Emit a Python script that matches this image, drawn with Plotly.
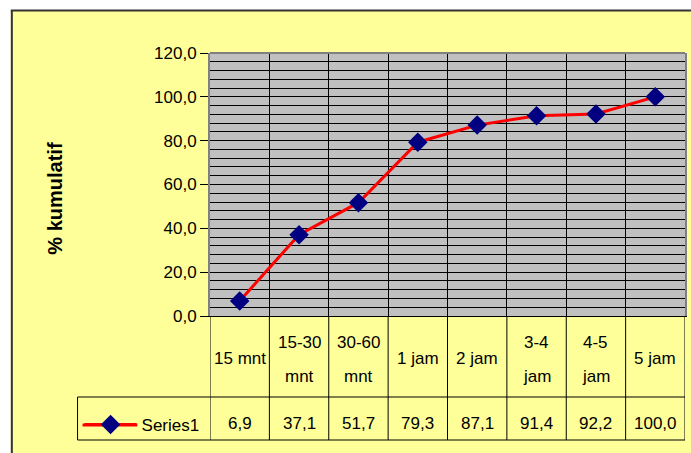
import plotly.graph_objects as go

# ---- data ----
categories = ["15 mnt", "15-30\nmnt", "30-60\nmnt", "1 jam", "2 jam", "3-4\njam", "4-5\njam", "5 jam"]
values = [6.9, 37.1, 51.7, 79.3, 87.1, 91.4, 92.2, 100.0]
series_name = "Series1"
y_title = "% kumulatif"
y_ticks = [0, 20, 40, 60, 80, 100, 120]

# ---- layout geometry (screen pixels) ----
W, H = 691, 453
L, R, T, B = 210, 687, 53, 316   # plot area in screen pixels


def px2x(px):
    return (px - L) / (R - L)


def py2y(py):
    return (B - py) / (B - T)


FONT = "Liberation Sans, Arial, sans-serif"
FS = 17
YELLOW = "#FFFF99"

xpos = [i + 0.5 for i in range(len(categories))]

fig = go.Figure()
fig.add_trace(go.Scatter(
    x=xpos, y=values, mode="lines+markers", name=series_name,
    line=dict(color="#FF0000", width=3),
    marker=dict(symbol="diamond", size=15, color="#000080", line=dict(width=0)),
    cliponaxis=False,
))

shapes = []
# white outer margin + dark frame of chart area
shapes.append(dict(type="rect", xref="paper", yref="paper", x0=px2x(-5), x1=px2x(700),
                   y0=py2y(10), y1=py2y(-5), fillcolor="white", line=dict(width=0)))
shapes.append(dict(type="rect", xref="paper", yref="paper", x0=px2x(-5), x1=px2x(10),
                   y0=py2y(460), y1=py2y(-5), fillcolor="white", line=dict(width=0)))
shapes.append(dict(type="line", xref="paper", yref="paper", x0=px2x(10), x1=px2x(700),
                   y0=py2y(10.5), y1=py2y(10.5), line=dict(color="#333333", width=2)))
shapes.append(dict(type="line", xref="paper", yref="paper", x0=px2x(11), x1=px2x(11),
                   y0=py2y(10), y1=py2y(460), line=dict(color="#333333", width=2)))
# top border of plot area
shapes.append(dict(type="line", xref="paper", yref="paper", x0=0, x1=1, y0=1, y1=1,
                   line=dict(color="#808080", width=2)))

# data table grid
tbl_mid = py2y(397)
tbl_bot = py2y(440)
for i in range(len(categories) + 1):
    shapes.append(dict(type="line", xref="x", yref="paper", x0=i, x1=i, y0=0, y1=tbl_bot,
                       line=dict(color="#000000", width=1)))
for yy in (tbl_mid, tbl_bot):
    shapes.append(dict(type="line", xref="paper", yref="paper", x0=px2x(77), x1=1, y0=yy, y1=yy,
                       line=dict(color="#000000", width=1)))
shapes.append(dict(type="line", xref="paper", yref="paper", x0=px2x(77), x1=px2x(77),
                   y0=tbl_mid, y1=tbl_bot, line=dict(color="#000000", width=1)))
# longer legend key line
shapes.append(dict(type="line", xref="paper", yref="paper", x0=px2x(82), x1=px2x(137),
                   y0=py2y(425), y1=py2y(425), line=dict(color="#FF0000", width=3)))

annotations = []
annotations.append(dict(text="<b>" + y_title + "</b>", xref="paper", yref="paper",
                        x=px2x(54), y=py2y(198), textangle=-90, showarrow=False,
                        xanchor="center", yanchor="middle",
                        font=dict(family=FONT, size=20, color="black")))
for xc, cat in zip(xpos, categories):
    lines = cat.split("\n")
    ys = [358] if len(lines) == 1 else [342, 376]
    for txt, yy in zip(lines, ys):
        annotations.append(dict(text=txt, xref="x", yref="paper", x=xc, y=py2y(yy),
                                showarrow=False, xanchor="center", yanchor="middle",
                                font=dict(family=FONT, size=FS, color="black")))
for xc, v in zip(xpos, values):
    annotations.append(dict(text=f"{v:.1f}".replace(".", ","), xref="x", yref="paper", x=xc,
                            y=py2y(423), showarrow=False, xanchor="center", yanchor="middle",
                            font=dict(family=FONT, size=FS, color="black")))

fig.update_layout(
    width=W, height=H, autosize=False,
    margin=dict(l=L, r=W - R, t=T, b=H - B, pad=0),
    paper_bgcolor=YELLOW, plot_bgcolor="#C0C0C0",
    separators=", ",
    font=dict(family=FONT, size=FS, color="black"),
    showlegend=True,
    legend=dict(x=px2x(79), y=py2y(425), xanchor="left", yanchor="middle",
                bgcolor="rgba(0,0,0,0)", borderwidth=0, itemwidth=52,
                font=dict(family=FONT, size=FS, color="black")),
    xaxis=dict(range=[0, len(categories)], tick0=0, dtick=1, showgrid=True,
               gridcolor="#000000", gridwidth=1, showticklabels=False, ticks="",
               showline=True, linecolor="#000000", linewidth=1, zeroline=False,
               fixedrange=True),
    yaxis=dict(range=[0, 120], tickvals=y_ticks, tickformat=".1f", showgrid=True,
               gridcolor="#000000", gridwidth=1,
               minor=dict(dtick=4, tick0=0, showgrid=True, gridcolor="#000000", gridwidth=1),
               ticks="outside", ticklen=8, tickcolor="#000000", tickwidth=1,
               showline=True, linecolor="#808080", linewidth=2, mirror=True,
               zeroline=False, tickfont=dict(family=FONT, size=FS, color="black"),
               fixedrange=True),
    shapes=shapes, annotations=annotations,
)

fig.write_html(
    "out.html",
    config={"displayModeBar": False},
    post_script="document.body.style.margin='0';document.body.style.overflow='hidden';",
)
